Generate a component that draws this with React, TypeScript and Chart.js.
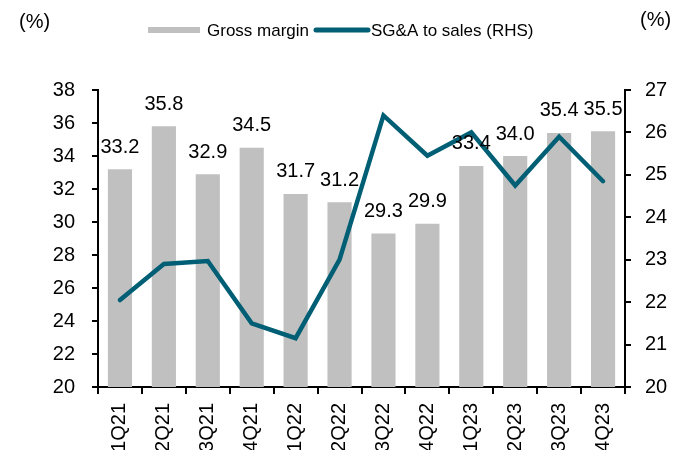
import React, { useEffect, useRef } from "react";
import { Chart, registerables } from "chart.js";

Chart.register(...registerables);

const categories = ["1Q21", "2Q21", "3Q21", "4Q21", "1Q22", "2Q22", "3Q22", "4Q22", "1Q23", "2Q23", "3Q23", "4Q23"];
const grossMargin = [33.2, 35.8, 32.9, 34.5, 31.7, 31.2, 29.3, 29.9, 33.4, 34.0, 35.4, 35.5];
const sgaToSales = [22.05, 22.9, 22.97, 21.5, 21.15, 23.0, 26.4, 25.45, 26.0, 24.75, 25.9, 24.85];
const leftTicks = { min: 20, max: 38, step: 2 };
const rightTicks = { min: 20, max: 27, step: 1 };

const FONT = "'Liberation Sans', Arial, sans-serif";
const BAR_COLOR = "#C0C0C0";
const LINE_COLOR = "#005F74";

const overlayPlugin = {
  id: "overlay",
  afterDatasetsDraw(chart: any) {
    const ctx = chart.ctx;
    ctx.save();
    // data labels for bars
    const meta = chart.getDatasetMeta(0);
    ctx.font = `20px ${FONT}`;
    ctx.fillStyle = "#000";
    ctx.textAlign = "center";
    ctx.textBaseline = "middle";
    meta.data.forEach((el: any, i: number) => {
      const v = chart.data.datasets[0].data[i] as number;
      ctx.fillText(v.toFixed(1), el.x, el.y - 22);
    });
    // unit labels
    ctx.textAlign = "left";
    ctx.font = `20px ${FONT}`;
    ctx.fillText("(%)", 19, 22);
    ctx.fillText("(%)", 640, 20);
    // legend
    const ds0 = chart.data.datasets[0];
    const ds1 = chart.data.datasets[1];
    ctx.font = `17px ${FONT}`;
    ctx.fillStyle = ds0.backgroundColor;
    ctx.fillRect(148, 27, 52, 6);
    ctx.fillStyle = "#000";
    ctx.fillText(ds0.label, 207, 31);
    ctx.strokeStyle = ds1.borderColor;
    ctx.lineWidth = 5;
    ctx.lineCap = "round";
    ctx.beginPath();
    ctx.moveTo(316, 30);
    ctx.lineTo(368, 30);
    ctx.stroke();
    ctx.fillStyle = "#000";
    ctx.fillText(ds1.label, 371, 31);
    ctx.restore();
  },
};

export default function App() {
  const ref = useRef<HTMLCanvasElement>(null);
  useEffect(() => {
    if (!ref.current) return;
    const chart = new Chart(ref.current, {
      type: "bar",
      data: {
        labels: categories,
        datasets: [
          {
            type: "bar",
            label: "Gross margin",
            data: grossMargin,
            backgroundColor: BAR_COLOR,
            yAxisID: "y",
            barPercentage: 0.55,
            categoryPercentage: 1,
            order: 2,
          },
          {
            type: "line",
            label: "SG&A to sales (RHS)",
            data: sgaToSales,
            borderColor: LINE_COLOR,
            backgroundColor: LINE_COLOR,
            borderWidth: 4.5,
            pointRadius: 0,
            tension: 0,
            yAxisID: "y1",
            borderCapStyle: "round",
            borderJoinStyle: "miter",
            order: 1,
          } as any,
        ],
      },
      options: {
        responsive: false,
        animation: false,
        layout: { padding: { top: 90, left: 0, right: 0, bottom: 0 } },
        plugins: {
          legend: { display: false },
          tooltip: { enabled: false },
        },
        scales: {
          x: {
            offset: true,
            grid: {
              offset: true,
              drawOnChartArea: false,
              drawTicks: true,
              tickLength: 7,
              tickColor: "#000",
              lineWidth: 2,
            },
            border: { color: "#000", width: 2 },
            ticks: {
              color: "#000",
              font: { family: FONT, size: 20 },
              minRotation: 90,
              maxRotation: 90,
              padding: 9,
              autoSkip: false,
            },
            afterFit(s: any) {
              s.height = 63;
            },
          },
          y: {
            position: "left",
            min: leftTicks.min,
            max: leftTicks.max,
            grid: {
              drawOnChartArea: false,
              drawTicks: true,
              tickLength: 6,
              tickColor: "#000",
              lineWidth: 2,
            },
            border: { color: "#000", width: 2 },
            ticks: {
              stepSize: leftTicks.step,
              color: "#000",
              font: { family: FONT, size: 20 },
              padding: 17,
            },
            afterFit(s: any) {
              s.width = 98;
            },
          },
          y1: {
            position: "right",
            min: rightTicks.min,
            max: rightTicks.max,
            grid: {
              drawOnChartArea: false,
              drawTicks: true,
              tickLength: 6,
              tickColor: "#000",
              lineWidth: 2,
            },
            border: { color: "#000", width: 2 },
            ticks: {
              stepSize: rightTicks.step,
              color: "#000",
              font: { family: FONT, size: 20 },
              padding: 14,
            },
            afterFit(s: any) {
              s.width = 69;
            },
          },
        },
      },
      plugins: [overlayPlugin],
    });
    return () => chart.destroy();
  }, []);
  return (
    <div style={{ position: "fixed", left: 0, top: 0, width: 694, height: 450, background: "#fff" }}>
      <canvas ref={ref} width={694} height={450} style={{ width: 694, height: 450, display: "block" }} />
    </div>
  );
}
